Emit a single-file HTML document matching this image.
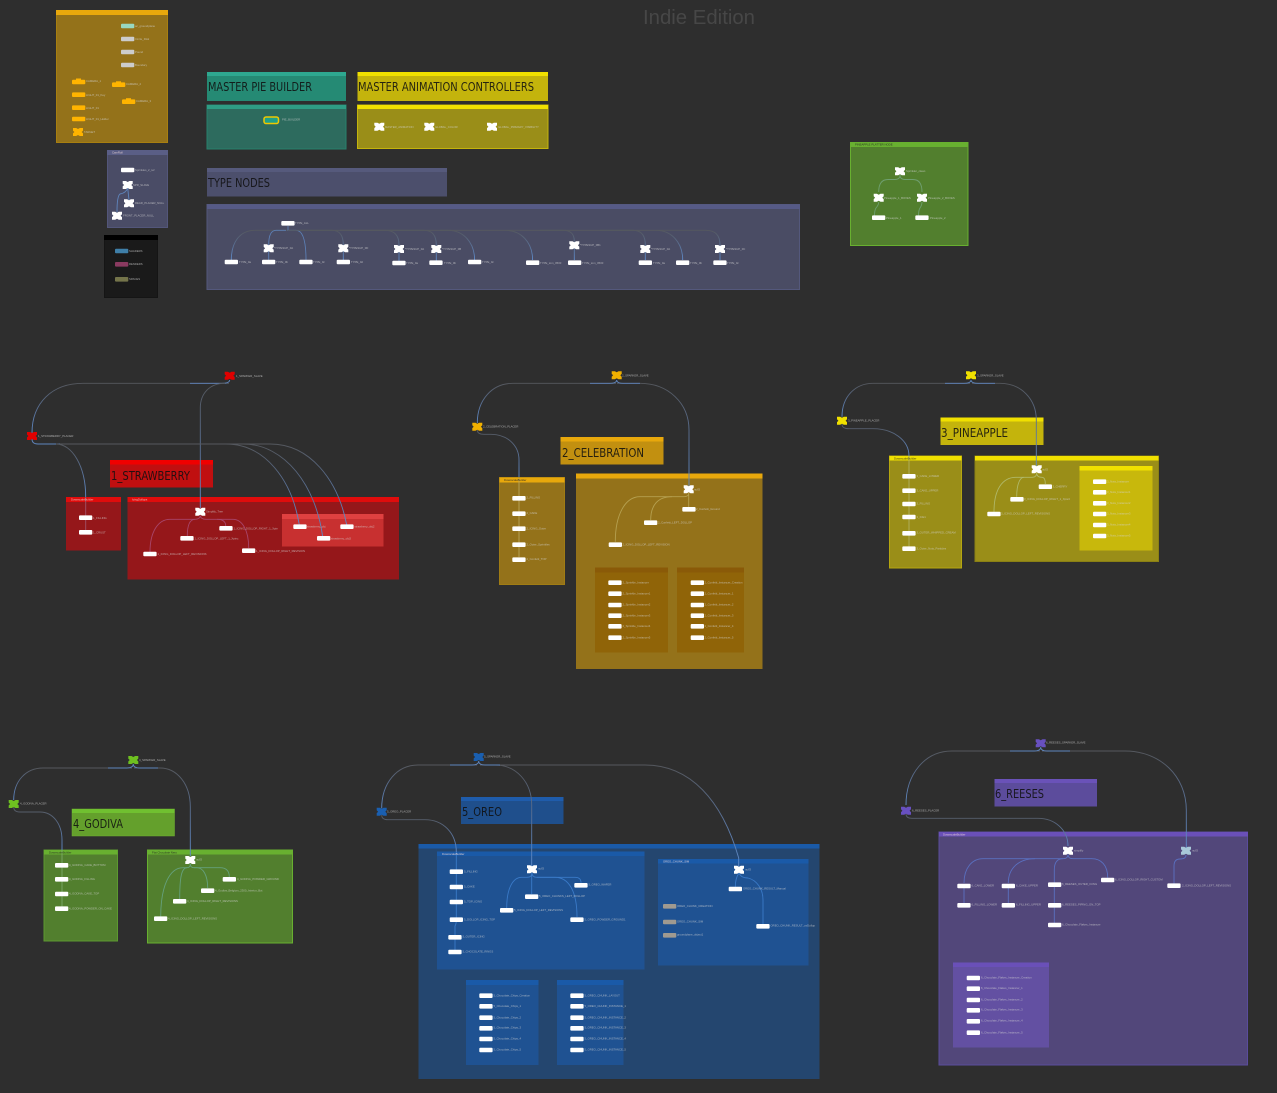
<!DOCTYPE html>
<html lang="en"><head><meta charset="utf-8"><title>Indie Edition</title>
<style>
html,body{margin:0;padding:0;background:#2e2e2e;width:1277px;height:1093px;overflow:hidden}
svg{display:block}
text{font-family:"Liberation Sans",sans-serif}
.l text{font-size:2.8px;fill:#d4d4d4;opacity:.72}
.h text{font-size:2.8px;fill:#f0d8d8;opacity:.85}
.d text{font-size:2.8px;fill:#222;opacity:.85}
.T text{font-family:"DejaVu Sans","Liberation Sans",sans-serif;font-size:12px;fill:#101010;opacity:.88}
.w path{fill:none;stroke-width:.9}
</style></head><body>
<svg width="1277" height="1093" viewBox="0 0 1277 1093" xmlns="http://www.w3.org/2000/svg">
<defs>
<linearGradient id="g" x1="0" y1="1" x2="0" y2="0"><stop offset="0" stop-color="#5f8ccb"/><stop offset=".45" stop-color="#5a7299"/><stop offset="1" stop-color="#55585e"/></linearGradient>
<path id="x" d="M-5,-4h3.2l1.8,1 1.8,-1h3.2v2.6l-1.4,1.4 1.4,1.4v2.6h-3.2l-1.8,-1 -1.8,1h-3.2v-2.6l1.4,-1.4 -1.4,-1.4z"/>
<rect id="r" x="0" y="-2.3" width="13.3" height="4.6" rx="1" fill="#fff"/>
<rect id="c" x="0" y="-2.3" width="13.3" height="4.6" rx="1"/>
</defs>
<rect width="1277" height="1093" fill="#2e2e2e"/>
<text x="643" y="24" font-size="20" fill="#474747" textLength="112" lengthAdjust="spacingAndGlyphs">Indie Edition</text>

<!-- BOXES -->
<g stroke-width="1">
<rect x="56.5" y="10.5" width="111" height="132" fill="#94721a" stroke="#a87f10"/><rect x="56" y="10" width="112" height="5" fill="#e8a80c"/>
<rect x="107.5" y="150.5" width="60" height="77" fill="#4a4c66" stroke="#53567a"/><rect x="107" y="150" width="61" height="5" fill="#5a5e86"/>
<rect x="104.5" y="235.5" width="53" height="62" fill="#1a1a1a" stroke="#151515"/><rect x="104" y="235" width="54" height="5" fill="#000"/>
<rect x="207" y="72" width="139" height="29" fill="#258a74"/><rect x="207" y="72" width="139" height="4" fill="#2ea890"/>
<rect x="207" y="105" width="139" height="44" fill="#2d6b5e" stroke="#28806c"/><rect x="207" y="105" width="139" height="4" fill="#2e9c84"/>
<rect x="357.5" y="72" width="190.5" height="29" fill="#c4b40c"/><rect x="357.5" y="72" width="190.5" height="4" fill="#f0e000"/>
<rect x="357.5" y="105" width="190.5" height="43.5" fill="#9a8e18" stroke="#c4b40c"/><rect x="357.5" y="105" width="190.5" height="4" fill="#f0e000"/>
<rect x="207" y="168" width="240" height="28.5" fill="#4c4f6c"/><rect x="207" y="168" width="240" height="4" fill="#565a7c"/>
<rect x="207" y="204.5" width="592.5" height="85" fill="#4a4c64" stroke="#54587c"/><rect x="207" y="204.5" width="593" height="4.5" fill="#565a86"/>
<rect x="850.5" y="142.5" width="117.5" height="103" fill="#527f2e" stroke="#68b030"/><rect x="850" y="142" width="118" height="5" fill="#68b030"/>

<!-- strawberry -->
<rect x="110" y="460" width="103" height="27.5" fill="#c00f10"/><rect x="110" y="460" width="103" height="4.5" fill="#f00000"/>
<rect x="66" y="497" width="55" height="53.5" fill="#95171a"/><rect x="66" y="497" width="55" height="5" fill="#e00c0c"/>
<rect x="127.5" y="497" width="271.5" height="82.5" fill="#95171a"/><rect x="127.5" y="497" width="271.5" height="5" fill="#e00c0c"/>
<rect x="282" y="514" width="101.5" height="32.5" fill="#c83030"/><rect x="282" y="514" width="101.5" height="5" fill="#e04040"/>

<!-- celebration -->
<rect x="560.5" y="437" width="103" height="27.5" fill="#c29010"/><rect x="560.5" y="437" width="103" height="4.5" fill="#e8a80c"/>
<rect x="499.5" y="477.5" width="65" height="107" fill="#94721a" stroke="#a07c14" /><rect x="499.5" y="477.5" width="65" height="5" fill="#e8a80c"/>
<rect x="576" y="473.5" width="186.5" height="195.5" fill="#94721a"/><rect x="576" y="473.5" width="186.5" height="5" fill="#e8a80c"/>
<rect x="595" y="567.5" width="73" height="85" fill="#906408"/><rect x="595" y="567.5" width="73" height="5" fill="#8a5a08"/>
<rect x="677" y="567.5" width="67" height="85" fill="#906408"/><rect x="677" y="567.5" width="67" height="5" fill="#8a5a08"/>

<!-- pineapple -->
<rect x="940.5" y="417.5" width="103" height="27.5" fill="#c4b40c"/><rect x="940.5" y="417.5" width="103" height="4" fill="#f0e000"/>
<rect x="889.5" y="456" width="72" height="112" fill="#9a8e18" stroke="#b5a60f"/><rect x="889.5" y="456" width="72" height="4.5" fill="#f0e000"/>
<rect x="975" y="456" width="183.5" height="105.5" fill="#9a8e18" stroke="#8a8014"/><rect x="975" y="456" width="183.5" height="4.5" fill="#f0e000"/>
<rect x="1079.5" y="466" width="73" height="84.5" fill="#c8b80c"/><rect x="1079.5" y="466" width="73" height="4.5" fill="#f0e000"/>

<!-- godiva -->
<rect x="72" y="809" width="102.5" height="27" fill="#64a02c" stroke="#70b030" stroke-width=".5"/><rect x="72" y="809" width="102.5" height="4" fill="#70c030"/>
<rect x="44" y="850" width="73.5" height="91" fill="#527f2e" stroke="#5c9830"/><rect x="44" y="850" width="73.5" height="4.5" fill="#68b030"/>
<rect x="147.5" y="850" width="145" height="93" fill="#527f2e" stroke="#68b030"/><rect x="147.5" y="850" width="145" height="4.5" fill="#68b030"/>

<!-- oreo -->
<rect x="461" y="797" width="102.5" height="27" fill="#1f4f8c"/><rect x="461" y="797" width="102.5" height="4" fill="#1f5cab"/>
<rect x="418.5" y="844" width="401" height="235" fill="#24466f"/><rect x="418.5" y="844" width="401" height="4.5" fill="#1a5aa8"/>
<rect x="437" y="851.5" width="207.5" height="118" fill="#1f5292"/><rect x="437" y="851.5" width="207.5" height="4.5" fill="#1a5aa8"/>
<rect x="658" y="859" width="150.5" height="106.5" fill="#1f5292"/><rect x="658" y="859" width="150.5" height="4.5" fill="#1a5aa8"/>
<rect x="466" y="980" width="72.5" height="85" fill="#1f5292"/><rect x="466" y="980" width="72.5" height="5" fill="#1a5aa8"/>
<rect x="557" y="980" width="66.5" height="85" fill="#1f5292"/><rect x="557" y="980" width="66.5" height="5" fill="#1a5aa8"/>

<!-- reeses -->
<rect x="994.5" y="779" width="102.5" height="27.5" fill="#5c4c9c"/><rect x="994.5" y="779" width="102.5" height="4" fill="#6a52b8"/>
<rect x="939" y="832" width="308.5" height="233" fill="#52477a" stroke="#5a4c9c"/><rect x="939" y="832" width="309" height="4.5" fill="#6a50b8"/>
<rect x="953" y="962.5" width="96" height="85" fill="#6350a2"/><rect x="953" y="962.5" width="96" height="4.5" fill="#6a50b8"/>
</g>

<!-- TITLES -->
<g class="T">
<text x="208" y="91" textLength="104" lengthAdjust="spacingAndGlyphs">MASTER PIE BUILDER</text>
<text x="358" y="91" textLength="176" lengthAdjust="spacingAndGlyphs">MASTER ANIMATION CONTROLLERS</text>
<text x="208" y="187" textLength="62" lengthAdjust="spacingAndGlyphs">TYPE NODES</text>
<text x="111" y="480" textLength="79" lengthAdjust="spacingAndGlyphs">1_STRAWBERRY</text>
<text x="562" y="457" textLength="82" lengthAdjust="spacingAndGlyphs">2_CELEBRATION</text>
<text x="941" y="437" textLength="67" lengthAdjust="spacingAndGlyphs">3_PINEAPPLE</text>
<text x="73" y="828" textLength="50" lengthAdjust="spacingAndGlyphs">4_GODIVA</text>
<text x="462" y="816" textLength="40" lengthAdjust="spacingAndGlyphs">5_OREO</text>
<text x="995" y="798" textLength="49" lengthAdjust="spacingAndGlyphs">6_REESES</text>
</g>

<!-- WIRES -->
<g class="w">
<!-- camrig -->
<path stroke="#5f85bd" d="M127.7,188 Q126,193 120,194 Q117,196 117,212"/>
<path stroke="#5f85bd" d="M127.7,188 L129,200"/>
<!-- type -->
<path stroke="url(#g)" d="M288,230.3 H255 C240,230.3 231.3,242 231.3,260"/>
<path stroke="#5c7fb5" d="M286,230.3 H276 Q268.7,230.3 268.7,245 M268.7,251 V260"/>
<path stroke="#5c7fb5" d="M288,226 V230.3 H296 Q306,230.3 306,260"/>
<path stroke="url(#g)" d="M288,230.3 H332 Q343.3,230.3 343.3,245 V260"/>
<path stroke="url(#g)" d="M300,230.3 H385 Q399,230.3 399,245 V261"/>
<path stroke="url(#g)" d="M300,230.3 H424 Q436.3,230.3 436.3,245 V261"/>
<path stroke="url(#g)" d="M340,230.3 H448 C463,230.3 474.6,242 474.6,260"/>
<path stroke="url(#g)" d="M340,230.3 H505 C521,230.3 532.6,242 532.6,260"/>
<path stroke="url(#g)" d="M440,230.3 H563 Q574.3,230.3 574.3,241 V260"/>
<path stroke="url(#g)" d="M520,230.3 H633 Q645.3,230.3 645.3,245 V260"/>
<path stroke="url(#g)" d="M540,230.3 H656 C671,230.3 682.7,242 682.7,260"/>
<path stroke="url(#g)" d="M600,230.3 H706 Q720,230.3 720,245 V260"/>
<!-- pineapple node -->
<path stroke="#6f9f70" d="M900,175 Q900,179.5 895,179.5 H888 Q878.7,179.5 878.7,192 M878.7,202 Q878.7,205 876,208 Q874.5,210 874.5,216"/>
<path stroke="#6f9f70" d="M900,175 Q900,179.5 905,179.5 H913 Q922,179.5 922,192 M922,202 Q922,205 920,208 Q918.5,210 918.5,216"/>
<!-- strawberry -->
<path stroke="url(#g)" d="M32,433 C32,403 52,383.3 83,383.3 H229"/>
<path stroke="#5f85bd" d="M229.7,380 Q229.7,383.3 222,383.3 H190"/>
<path stroke="url(#g)" d="M200.3,508 V408 C200.3,393 210,383.3 225,383.3"/>
<path stroke="#5f85bd" d="M32,439 Q32,444 38,444 H80"/>
<path stroke="url(#g)" d="M85.7,497 C85.7,466 72,444 56,444"/>
<path stroke="#a05068" d="M85.7,497 V530"/>
<path stroke="url(#g)" d="M299.3,525 C292,480 265,444 226,444 H60"/>
<path stroke="url(#g)" d="M322.7,537 C316,486 285,444 243,444 H100"/>
<path stroke="url(#g)" d="M346.7,525 C338,480 310,444 270,444 H150"/>
<path stroke="#a8456a" d="M200.3,515.5 Q200,519.3 195,519.3 H170 C158,519.3 150,532 150,552"/>
<path stroke="#a8456a" d="M195,519.3 Q187.3,519.3 187.3,536"/>
<path stroke="#a8456a" d="M200.3,515.5 Q200.5,519.3 206,519.3 H217 Q225.7,519.3 225.7,526"/>
<path stroke="#a8456a" d="M217,519.3 H233 C242,519.3 248.7,530 248.7,548"/>
<!-- celebration -->
<path stroke="url(#g)" d="M477.3,423 C477.3,400 492,383.3 513,383.3 H616"/>
<path stroke="url(#g)" d="M689,486 V430 C689,403 668,383.3 640,383.3 H617"/>
<path stroke="#5f85bd" d="M616.7,380 Q616.7,383.3 610,383.3 H590 M616.7,380 Q616.7,383.3 623,383.3 H640"/>
<path stroke="url(#g)" d="M519,477 V460 C519,445 507,434.3 491,434.3 H484 Q477.3,434.3 477.3,430"/>
<path stroke="#b8a45a" d="M519,477.5 V557"/>
<path stroke="#b5a050" stroke-width="1" d="M688.7,493 V507 M688.7,493 Q688.7,496.7 684,496.7 H640 C625,496.7 615.3,515 615.3,541.7"/>
<path stroke="#b5a050" d="M672,496.7 C658,496.7 650.7,505 650.7,520"/>
<!-- pineapple -->
<path stroke="url(#g)" d="M842,416.7 C842,397 855,383.3 873,383.3 H970"/>
<path stroke="url(#g)" d="M1036.3,466 V420 C1036.3,399 1021,383.3 1000,383.3 H972"/>
<path stroke="#5f85bd" d="M971,380 Q971,383.3 964,383.3 H945 M971,380 Q971,383.3 978,383.3 H995"/>
<path stroke="url(#g)" d="M909,456 C909,440 893,428.7 873,428.7 H849 Q842,428.7 842,424"/>
<path stroke="#b0b060" d="M909,456 V547"/>
<path stroke="#b0b868" d="M1036.7,473 Q1036.7,477.3 1042,477.3 Q1045.3,477.3 1045.3,484"/>
<path stroke="#b0b868" d="M1036.7,473 Q1036.7,477.3 1032,477.3 H1024 C1020,477.3 1016.7,484 1016.7,496.7"/>
<path stroke="#b0b868" d="M1024,477.3 H1016 C1002,477.3 994,490 994,511.7"/>
<!-- godiva -->
<path stroke="url(#g)" d="M13.7,800 C13.7,781 26,768 43,768 H132"/>
<path stroke="url(#g)" d="M190.3,856 V806.7 C190.3,784 177,768 160,768 H134"/>
<path stroke="#5f85bd" d="M133.3,764 Q133.3,768 126,768 H108 M133.3,764 Q133.3,768 140,768 H158"/>
<path stroke="url(#g)" d="M62,850 V840 C62,824 53,812 40,812 H20 Q13.7,812 13.7,807"/>
<path stroke="#7aa86a" d="M62,850 V907"/>
<path stroke="#65a07c" d="M190.3,864 Q190.3,867.7 194,867.7 H220 Q229.3,867.7 229.3,877"/>
<path stroke="#65a07c" d="M194,867.7 H197 C203,867.7 207.7,875 207.7,888"/>
<path stroke="#65a07c" d="M190.3,864 Q190.3,867.7 187,867.7 C182,867.7 179.7,875 179.7,899"/>
<path stroke="#65a07c" d="M187,867.7 H183 C170,867.7 160.7,885 160.7,917"/>
<!-- oreo -->
<path stroke="url(#g)" d="M381.7,808.3 C381.7,783 397,765 418,765 H477"/>
<path stroke="url(#g)" d="M531.7,866 V805 C531.7,782 516,765 495,765 H480"/>
<path stroke="url(#g)" d="M738.7,866 V858 C722,800 690,765 645,765 H480"/>
<path stroke="#5f85bd" d="M478.7,761 Q478.7,765 472,765 H450 M478.7,761 Q478.7,765 485,765 H500"/>
<path stroke="url(#g)" d="M456.3,852 C456.3,833 443,819.7 425,819.7 H388 Q381.7,819.7 381.7,815"/>
<path stroke="#3a7ac8" d="M456.3,852 V920 Q456.3,924 455,926 V950"/>
<path stroke="#3a7ac8" d="M532,873 Q532,877.3 527,877.3 H521.7 C513,877.3 506.7,888 506.7,908"/>
<path stroke="#3a7ac8" d="M531.7,873 V894"/>
<path stroke="#3a7ac8" d="M532,873 Q532,877.3 537,877.3 H575 Q581,877.3 581,882.7"/>
<path stroke="#3a7ac8" d="M537,877.3 H555 C568,877.3 577,890 577,917"/>
<path stroke="#3a7ac8" d="M739,873 Q735.3,878 735.3,887"/>
<path stroke="#3a7ac8" d="M739,873 Q741,878 748,878 C756,880 763,888 763,900 V924"/>
<!-- reeses -->
<path stroke="url(#g)" d="M906,805 C906,774 925,751 952,751 H1040"/>
<path stroke="url(#g)" d="M1186.3,848 V810 C1186.3,776 1160,751 1125,751 H1042"/>
<path stroke="#5f85bd" d="M1040.7,747 Q1040.7,751 1034,751 H1010 M1040.7,747 Q1040.7,751 1047,751 H1070"/>
<path stroke="url(#g)" d="M1068,846 C1068,830 1055,818.3 1038,818.3 H912 Q906,818.3 906,814"/>
<path stroke="#5a70c0" d="M1068,854.5 Q1068,858.7 1063,858.7 H983 C972,858.7 964,868 964,883 M964,885 V905"/>
<path stroke="#5a70c0" d="M1035,858.7 C1019,858.7 1008.3,868 1008.3,883 M1008.3,885 V905"/>
<path stroke="#5a70c0" d="M1063,858.7 Q1054.3,858.7 1054.3,870 V925"/>
<path stroke="#5a70c0" d="M1068,854.5 Q1068,858.7 1073,858.7 H1091.7 C1101,858.7 1107.7,865 1107.7,877.7"/>
<path stroke="#5a70c0" d="M1186,855 Q1186,859 1180,859 Q1174,859 1174,866 V884"/>
</g>

<!-- NODES -->
<g>
<use href="#c" x="121" y="26" fill="#98d8c0"/><use href="#c" x="121" y="39" fill="#ccc"/><use href="#c" x="121" y="52" fill="#ccc"/><use href="#c" x="121" y="65" fill="#ccc"/>
<g fill="#ffb400">
<use href="#c" x="72" y="82"/><rect x="76" y="78.5" width="5" height="2"/><use href="#c" x="112" y="84.7"/><rect x="116" y="81.3" width="5" height="2"/><use href="#c" x="122" y="101.7"/><rect x="126" y="98.2" width="5" height="2"/>
<use href="#c" x="72" y="94.7"/><use href="#c" x="72" y="107.7"/><use href="#c" x="72" y="119"/><use href="#x" x="78" y="132"/>
</g>
<use href="#r" x="121" y="170"/>
<g fill="#fff"><use href="#x" x="127.7" y="185"/><use href="#x" x="129" y="203.3"/><use href="#x" x="117" y="215.7"/></g>
<use href="#c" x="115" y="251" fill="#3f7fa8"/><use href="#c" x="115" y="264.3" fill="#8a3a60"/><use href="#c" x="115" y="279.3" fill="#74744a"/>
<rect x="264" y="117" width="14.5" height="6.5" rx="2" fill="#1fa088" stroke="#f0c800" stroke-width="1.5"/>
<g fill="#fff">
<use href="#x" x="379.3" y="126.7"/><use href="#x" x="429.3" y="126.7"/><use href="#x" x="492" y="126.7"/>
<use href="#x" x="268.7" y="248.3"/><use href="#x" x="343.3" y="248.3"/><use href="#x" x="399" y="249"/><use href="#x" x="436.3" y="249"/><use href="#x" x="574.3" y="245.3"/><use href="#x" x="645.3" y="249"/><use href="#x" x="720" y="249"/>
<use href="#x" x="900" y="171.3"/><use href="#x" x="878.7" y="197.7"/><use href="#x" x="922" y="197.7"/>
<use href="#x" x="200.3" y="511.7"/><use href="#x" x="688.7" y="489.3"/><use href="#x" x="1036.7" y="469.3"/><use href="#x" x="190.3" y="860"/><use href="#x" x="532" y="869.3"/><use href="#x" x="739" y="869.7"/><use href="#x" x="1068" y="850.7"/>
</g>
<use href="#x" x="1186" y="850.7" fill="#a8c8d8"/>
<use href="#x" x="229.7" y="375.7" fill="#e00000"/><use href="#x" x="32" y="436" fill="#e00000"/>
<use href="#x" x="616.7" y="375.3" fill="#f0b000"/><use href="#x" x="477.3" y="426.7" fill="#f0b000"/>
<use href="#x" x="971" y="375.3" fill="#f0e000"/><use href="#x" x="842" y="420.7" fill="#f0e000"/>
<use href="#x" x="133.3" y="760" fill="#6ec020"/><use href="#x" x="13.7" y="804" fill="#6ec020"/>
<use href="#x" x="478.7" y="757" fill="#1a5fb0"/><use href="#x" x="381.7" y="811.7" fill="#1a5fb0"/>
<use href="#x" x="1040.7" y="743.3" fill="#6850c0"/><use href="#x" x="906" y="810.7" fill="#6850c0"/>

<!-- type rects -->
<use href="#r" x="281.3" y="223.3"/>
<use href="#r" x="224.7" y="262"/><use href="#r" x="262" y="262"/><use href="#r" x="299.3" y="262"/><use href="#r" x="336.7" y="262"/><use href="#r" x="392.3" y="263"/><use href="#r" x="429.3" y="262.7"/><use href="#r" x="468" y="262"/><use href="#r" x="526" y="262.7"/><use href="#r" x="568" y="262.7"/><use href="#r" x="638.7" y="262.7"/><use href="#r" x="676" y="262.7"/><use href="#r" x="713.3" y="262.7"/>
<use href="#r" x="872" y="217.7"/><use href="#r" x="915.3" y="217.7"/>
<!-- strawberry -->
<use href="#r" x="79" y="517.7"/><use href="#r" x="79" y="532.3"/><use href="#r" x="180.3" y="538.3"/><use href="#r" x="219.3" y="528.3"/><use href="#r" x="143.3" y="554"/><use href="#r" x="242" y="550.7"/><use href="#r" x="293.3" y="526.7"/><use href="#r" x="317" y="538.3"/><use href="#r" x="340.3" y="526.7"/>
<!-- celebration -->
<use href="#r" x="512.3" y="498.3"/><use href="#r" x="512.3" y="513.7"/><use href="#r" x="512.3" y="528.7"/><use href="#r" x="512.3" y="544.7"/><use href="#r" x="512.3" y="559.7"/>
<use href="#r" x="682.3" y="509.3"/><use href="#r" x="644" y="522.7"/><use href="#r" x="608.7" y="544.7"/>
<use href="#r" x="608.3" y="582.7"/><use href="#r" x="608.3" y="593.7"/><use href="#r" x="608.3" y="605"/><use href="#r" x="608.3" y="615.7"/><use href="#r" x="608.3" y="626.3"/><use href="#r" x="608.3" y="637.7"/>
<use href="#r" x="690.7" y="582.7"/><use href="#r" x="690.7" y="593.7"/><use href="#r" x="690.7" y="605"/><use href="#r" x="690.7" y="615.7"/><use href="#r" x="690.7" y="626.3"/><use href="#r" x="690.7" y="637.7"/>
<!-- pineapple -->
<use href="#r" x="902.3" y="476.3"/><use href="#r" x="902.3" y="490.7"/><use href="#r" x="902.3" y="504"/><use href="#r" x="902.3" y="517"/><use href="#r" x="902.3" y="533.3"/><use href="#r" x="902.3" y="548.7"/>
<use href="#r" x="1038.7" y="486.7"/><use href="#r" x="1010.3" y="499.3"/><use href="#r" x="987.3" y="514"/>
<use href="#r" x="1093" y="481.7"/><use href="#r" x="1093" y="492.3"/><use href="#r" x="1093" y="503.3"/><use href="#r" x="1093" y="514"/><use href="#r" x="1093" y="525"/><use href="#r" x="1093" y="536"/>
<!-- godiva -->
<use href="#r" x="55" y="865.3"/><use href="#r" x="55" y="879.3"/><use href="#r" x="55" y="894"/><use href="#r" x="55" y="908.7"/>
<use href="#r" x="222.7" y="879.3"/><use href="#r" x="201" y="890.7"/><use href="#r" x="173" y="901.3"/><use href="#r" x="154" y="918.7"/>
<!-- oreo -->
<use href="#r" x="449.7" y="871.7"/><use href="#r" x="449.7" y="887"/><use href="#r" x="449.7" y="902"/><use href="#r" x="449.7" y="919.7"/><use href="#r" x="448.3" y="937.3"/><use href="#r" x="448.3" y="952"/>
<use href="#r" x="574.3" y="885.3"/><use href="#r" x="525" y="896.7"/><use href="#r" x="500" y="910.3"/><use href="#r" x="570.3" y="919.7"/>
<use href="#r" x="728.7" y="889"/><use href="#r" x="756.3" y="926.3"/>
<use href="#c" x="663" y="906.3" fill="#a09a90"/><use href="#c" x="663" y="922" fill="#a09a90"/><use href="#c" x="663" y="935.3" fill="#a09a90"/>
<use href="#r" x="479.3" y="995.7"/><use href="#r" x="479.3" y="1006.3"/><use href="#r" x="479.3" y="1017.7"/><use href="#r" x="479.3" y="1028.3"/><use href="#r" x="479.3" y="1039"/><use href="#r" x="479.3" y="1050"/>
<use href="#r" x="570.3" y="995.7"/><use href="#r" x="570.3" y="1006.3"/><use href="#r" x="570.3" y="1017.7"/><use href="#r" x="570.3" y="1028.3"/><use href="#r" x="570.3" y="1039"/><use href="#r" x="570.3" y="1050"/>
<!-- reeses -->
<use href="#r" x="957.3" y="886"/><use href="#r" x="957.3" y="905.3"/><use href="#r" x="1001.7" y="886"/><use href="#r" x="1001.7" y="905.3"/>
<use href="#r" x="1048" y="884.7"/><use href="#r" x="1048" y="905.3"/><use href="#r" x="1048" y="925"/><use href="#r" x="1101" y="880"/><use href="#r" x="1167.3" y="885.7"/>
<use href="#r" x="966.7" y="978"/><use href="#r" x="966.7" y="988.7"/><use href="#r" x="966.7" y="1000"/><use href="#r" x="966.7" y="1010.3"/><use href="#r" x="966.7" y="1021.3"/><use href="#r" x="966.7" y="1032.7"/>
</g>

<!-- LABELS -->
<g class="l">
<text x="135" y="27">ac_groundplane</text><text x="135" y="40">Circle_Disk</text><text x="135" y="53">Pound</text><text x="135" y="66">Boundary</text>
<text x="86" y="82">CAMERA_1</text><text x="126" y="85">CAMERA_2</text><text x="136" y="102">CAMERA_3</text><text x="86" y="96">LIGHT_01_Key</text><text x="86" y="109">LIGHT_01</text><text x="86" y="120">LIGHT_01_Holder</text><text x="84" y="133">TARGET</text>
<text x="135" y="171">Sprinkles_2_ref</text><text x="133" y="186">SPR_SLAVE</text><text x="135" y="204">REAR_PLACER_NULL</text><text x="123" y="216.5">FRONT_PLACER_NULL</text>
<text x="129" y="252">SHADERS</text><text x="129" y="265">RENDERS</text><text x="129" y="280">SPACES</text>
<text x="282" y="120.5">PIE_BUILDER</text><text x="385" y="128">MASTER_ANIMATION</text><text x="435" y="128">GLOBAL_COLOR</text><text x="498" y="128">GLOBAL_PRIMARY_VISIBILITY</text>

<text x="295" y="224">TYPE_ALL</text>
<text x="239" y="263">TYPE_0a</text><text x="276" y="263">TYPE_0b</text><text x="313" y="263">TYPE_0c</text><text x="351" y="263">TYPE_0d</text><text x="406" y="264">TYPE_0a</text><text x="444" y="264">TYPE_0b</text><text x="482" y="263">TYPE_0c</text>
<text x="540" y="264">TYPE_tom_0500</text><text x="582" y="264">TYPE_tom_0500</text><text x="653" y="264">TYPE_0a</text><text x="690" y="264">TYPE_0b</text><text x="727" y="264">TYPE_0c</text>
<text x="274" y="249">*TYPESUP_0A</text><text x="349" y="249">*TYPESUP_0D</text><text x="405" y="250">*TYPESUP_0A</text><text x="442" y="250">*TYPESUP_0B</text><text x="580" y="246">*TYPESUP_0B1</text><text x="651" y="250">*TYPESUP_0A</text><text x="726" y="250">*TYPESUP_0C</text>

<text x="906" y="172">Sprinkler_clean</text><text x="884" y="199">Pineapple_1_BOXES</text><text x="928" y="199">Pineapple_2_BOXES</text><text x="886" y="219">Pineapple_1</text><text x="930" y="219">Pineapple_2</text>

<text x="236" y="377">1_SPARKER_SLAVE</text><text x="38" y="437">1_STRAWBERRY_PLACER</text>
<text x="93" y="519">1_FILLING</text><text x="93" y="533.5">1_CRUST</text>
<text x="206" y="512.5">Simplify_Tree</text><text x="194.5" y="539.5">1_ICING_DOLLOP_LEFT_1_Xpiec</text><text x="233.5" y="529.5">1_ICING_DOLLOP_RIGHT_1_Xpie</text><text x="157.5" y="555">1_ICING_DOLLOP_LEFT_REVISIONS</text><text x="256" y="552">1_ICING_DOLLOP_RIGHT_REVISION</text>
<text x="307" y="527.5">strawberry_obj</text><text x="331" y="539.5">strawberry_obj3</text><text x="354.5" y="527.5">strawberry_obj2</text>

<text x="622" y="376.5">2_SPARKER_SLAVE</text><text x="483" y="427.5">2_CELEBRATION_PLACER</text>
<text x="526.5" y="498.5">2_FILLING</text><text x="526.5" y="514">2_CAKE</text><text x="526.5" y="529.5">2_ICING_Outer</text><text x="526.5" y="545.5">2_Outer_Sprinkles</text><text x="526.5" y="560">2_Confetti_TOP</text>
<text x="694" y="490.5">null3</text><text x="696" y="510">2_Confetti_Ground</text><text x="658" y="523.5">2_Confetti_LEFT_DOLLOP</text><text x="622.5" y="545.5">2_ICING_DOLLOP_LEFT_REVISION</text>
<text x="622.5" y="583.5">2_Sprinkle_Instancer</text><text x="622.5" y="594.5">2_Sprinkle_Instancer1</text><text x="622.5" y="605.5">2_Sprinkle_Instancer2</text><text x="622.5" y="616.5">2_Sprinkle_Instancer3</text><text x="622.5" y="627">2_Sprinkle_Instancer4</text><text x="622.5" y="638.5">2_Sprinkle_Instancer5</text>
<text x="704.5" y="583.5">2_Confetti_Instancer_Creation</text><text x="704.5" y="594.5">2_Confetti_Instancer_1</text><text x="704.5" y="605.5">2_Confetti_Instancer_2</text><text x="704.5" y="616.5">2_Confetti_Instancer_3</text><text x="704.5" y="627">2_Confetti_Instancer_4</text><text x="704.5" y="638.5">2_Confetti_Instancer_5</text>

<text x="977" y="376.5">3_SPARKER_SLAVE</text><text x="848" y="421.5">3_PINEAPPLE_PLACER</text>
<text x="916.5" y="477">3_CAKE_LOWER</text><text x="916.5" y="491.5">3_CAKE_UPPER</text><text x="916.5" y="504.5">3_FILLING</text><text x="916.5" y="518">3_ICE1</text><text x="916.5" y="533.5">3_OUTER_WHIPPED_CREAM</text><text x="916.5" y="549.5">3_Outer_Nuts_Particles</text>
<text x="1042" y="470.5">null3</text><text x="1052.5" y="487.5">3_CHERRY</text><text x="1024" y="500">3_ICING_DOLLOP_RIGHT_1_Xpie3</text><text x="1001" y="514.5">3_ICING_DOLLOP_LEFT_REVISIONS</text>
<text x="1107" y="482.5">3_Nuts_Instancer</text><text x="1107" y="493">3_Nuts_Instancer1</text><text x="1107" y="504">3_Nuts_Instancer2</text><text x="1107" y="514.5">3_Nuts_Instancer3</text><text x="1107" y="525.5">3_Nuts_Instancer4</text><text x="1107" y="536.5">3_Nuts_Instancer5</text>

<text x="139" y="761">4_SPARKER_SLAVE</text><text x="20" y="804.5">4_GODIVA_PLACER</text>
<text x="69" y="866">4_GODIVA_CAKE_BOTTOM</text><text x="69" y="880">4_GODIVA_FILLING</text><text x="69" y="894.5">4_GODIVA_CAKE_TOP</text><text x="69" y="909.5">4_GODIVA_POWDER_ON_CAKE</text>
<text x="196" y="860.5">null3</text><text x="237" y="880">4_GODIVA_POWDER_GROUND</text><text x="215" y="891.5">4_Godiva_Belgium_2300_Interior_Bot</text><text x="187" y="902">4_ICING_DOLLOP_RIGHT_REVISIONS</text><text x="168" y="919.5">4_ICING_DOLLOP_LEFT_REVISIONS</text>

<text x="484" y="757.5">5_SPARKER_SLAVE</text><text x="387" y="812.5">5_OREO_PLACER</text>
<text x="464" y="872.5">5_FILLING</text><text x="464" y="887.5">5_CAKE</text><text x="464" y="902.5">5_TOP_ICING</text><text x="464" y="920.5">5_DOLLOP_ICING_TOP</text><text x="462.5" y="937.5">5_OUTER_ICING</text><text x="462.5" y="952.5">5_CHOCOLATE_RINGS</text>
<text x="538" y="869.5">null3</text><text x="588.5" y="885.5">5_OREO_WAFER</text><text x="539" y="897">5_OREO_CHUNKS_LEFT_DOLLOP</text><text x="514" y="911">5_ICING_DOLLOP_LEFT_REVISIONS</text><text x="584.5" y="920.5">5_OREO_POWDER_GROUND1</text>
<text x="745" y="870.5">null3</text><text x="743" y="889.5">OREO_CHUNK_RESULT_Manual</text><text x="770.5" y="926.5">OREO_CHUNK_RESULT_uvDollop</text>
<text x="677" y="907">OREO_CHUNK_CREATION</text><text x="677" y="922.5">OREO_CHUNK_SIM</text><text x="677" y="935.5">groundplane_object1</text>
<text x="493.5" y="996.5">5_Chocolate_Chips_Creation</text><text x="493.5" y="1007">5_Chocolate_Chips_1</text><text x="493.5" y="1018.5">5_Chocolate_Chips_2</text><text x="493.5" y="1028.5">5_Chocolate_Chips_3</text><text x="493.5" y="1039.5">5_Chocolate_Chips_4</text><text x="493.5" y="1050.5">5_Chocolate_Chips_5</text>
<text x="584.5" y="996.5">5_OREO_CHUNK_LAYOUT</text><text x="584.5" y="1007">5_OREO_CHUNK_INSTANCE_1</text><text x="584.5" y="1018.5">5_OREO_CHUNK_INSTANCE_2</text><text x="584.5" y="1028.5">5_OREO_CHUNK_INSTANCE_3</text><text x="584.5" y="1039.5">5_OREO_CHUNK_INSTANCE_4</text><text x="584.5" y="1050.5">5_OREO_CHUNK_INSTANCE_5</text>

<text x="1046" y="743.5">6_REESES_SPARKER_SLAVE</text><text x="912" y="811.5">6_REESES_PLACER</text>
<text x="1074" y="851.5">simplify</text><text x="1192" y="851.5">null3</text>
<text x="971.5" y="886.5">6_CAKE_LOWER</text><text x="971.5" y="905.5">6_FILLING_LOWER</text><text x="1016" y="886.5">6_CAKE_UPPER</text><text x="1016" y="905.5">6_FILLING_UPPER</text>
<text x="1062" y="885">6_REESES_OUTER_ICING</text><text x="1062" y="905.5">6_REESES_PIPING_ON_TOP</text><text x="1062" y="925.5">6_Chocolate_Flakes_Instancer</text>
<text x="1115" y="880.5">6_ICING_DOLLOP_RIGHT_CUSTOM</text><text x="1182" y="886.5">2_ICING_DOLLOP_LEFT_REVISIONS</text>
<text x="981" y="978.5">6_Chocolate_Flakes_Instancer_Creation</text><text x="981" y="989">6_Chocolate_Flakes_Instancer_1</text><text x="981" y="1000.5">6_Chocolate_Flakes_Instancer_2</text><text x="981" y="1010.5">6_Chocolate_Flakes_Instancer_3</text><text x="981" y="1021.5">6_Chocolate_Flakes_Instancer_4</text><text x="981" y="1033.5">6_Chocolate_Flakes_Instancer_5</text>
</g>
<g class="d">
<text x="855" y="145.5">PINEAPPLE PLATTER NODE</text>
<text x="504" y="481">DownscaleBuilder</text><text x="894" y="459.3">DownscaleBuilder</text><text x="49" y="853.3">DownscaleBuilder</text><text x="152" y="853.3">Flat Chocolate Nero</text>
</g>
<g class="h">
<text x="112" y="153.7">CamRoll</text><text x="71" y="500.5">DownscaleBuilder</text><text x="132" y="500.5">IcingDollops</text>
<text x="442" y="854.8">DownscaleBuilder</text><text x="663" y="862.3">OREO_CHUNK_SIM</text><text x="943" y="835.3">DownscaleBuilder</text>
</g>
</svg>
</body></html>
